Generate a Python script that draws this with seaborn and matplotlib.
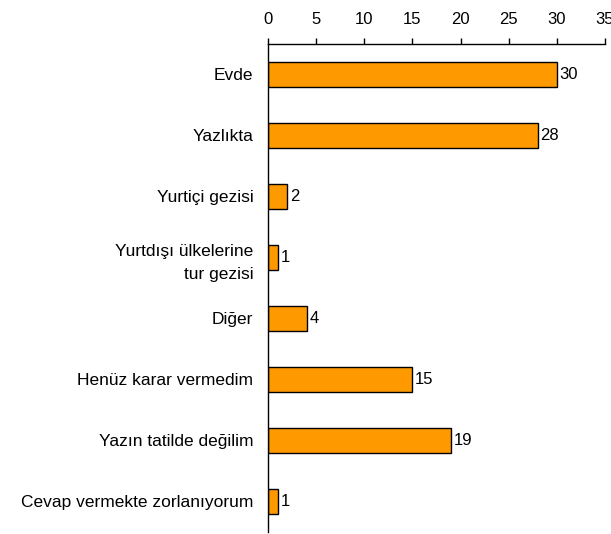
import numpy as np
import pandas as pd
import matplotlib
matplotlib.use("Agg")
import matplotlib.pyplot as plt
import seaborn as sns

categories = ["Evde", "Yazlıkta", "Yurtiçi gezisi", "Yurtdışı ülkelerine\ntur gezisi",
              "Diğer", "Henüz karar vermedim", "Yazın tatilde değilim",
              "Cevap vermekte zorlanıyorum"]
values = [30, 28, 2, 1, 4, 15, 19, 1]
x_ticks = [0, 5, 10, 15, 20, 25, 30, 35]

df = pd.DataFrame({"kategori": categories, "deger": values})

sns.set_style("white")
plt.rcParams['font.family'] = ['Liberation Sans', 'DejaVu Sans']

fig = plt.figure(figsize=(6.11, 5.34), dpi=100)
ax = fig.add_axes([0.4386, 0.004, 0.5516, 0.9136])

sns.barplot(data=df, x="deger", y="kategori", orient="h", color="#FF9900",
            saturation=1, width=0.4, edgecolor="black", linewidth=1, ax=ax)

for c in ax.containers:
    ax.bar_label(c, padding=2, fontsize=12, color="black")

ax.set_xlim(0, 35)
ax.set_ylim(len(categories) - 0.5, -0.5)
ax.set_xticks(x_ticks)
ax.xaxis.tick_top()
ax.tick_params(axis="x", direction="out", length=4, width=1, color="black",
               labelsize=12, pad=8, labelcolor="black")
ax.tick_params(axis="y", which="major", length=0, labelsize=12.5, pad=10.5, labelcolor="black")
for lbl in ax.get_yticklabels():
    lbl.set_linespacing(1.7)
ax.set_yticks(np.arange(-0.5, len(categories), 1.0), minor=True)
ax.tick_params(axis="y", which="minor", direction="out", length=5, width=1, color="black")
ax.set_xlabel("")
ax.set_ylabel("")

for s in ["right", "bottom"]:
    ax.spines[s].set_visible(False)
for s in ["left", "top"]:
    ax.spines[s].set_color("black")
    ax.spines[s].set_linewidth(1)

fig.savefig("out.png", dpi=100, facecolor="white")
